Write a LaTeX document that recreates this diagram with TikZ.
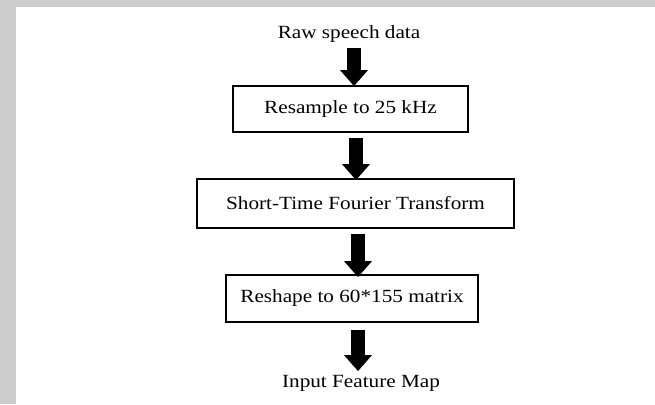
\documentclass[tikz,border=0pt]{standalone}
\usepackage{fontspec}
\setmainfont{Liberation Serif}[FakeStretch=1.14]
\usetikzlibrary{arrows.meta}
\definecolor{framegray}{RGB}{204,204,204}
\tikzset{
  label/.style={inner sep=0pt, font=\fontsize{18.6}{22}\selectfont, text=black},
  stage/.style={draw=black, line width=1.8pt, inner sep=0pt, font=\fontsize{18.6}{22}\selectfont, text=black},
  flow/.style={line width=14pt, -{Triangle[width=27pt,length=16pt]}}
}
\begin{document}
\begin{tikzpicture}[x=1pt, y=-1pt]
  % page and grey frame
  \useasboundingbox (0,0) rectangle (655,404);
  \fill[white] (0,0) rectangle (655,404);
  \fill[framegray] (0,0) rectangle (655,7);
  \fill[framegray] (0,0) rectangle (16,404);

  % texts and processing stages
  \node[label, anchor=base] (raw) at (349,39) {Raw speech data};
  \node[stage, minimum width=235pt, minimum height=46pt] (resample) at (350.5,109) {Resample to 25 kHz};
  \node[stage, minimum width=317pt, minimum height=49pt] (stft) at (355.5,203.5) {Short-Time Fourier Transform};
  \node[stage, minimum width=252pt, minimum height=47pt] (reshape) at (352,298.5) {Reshape to 60*155 matrix};
  \node[label, anchor=base] (feat) at (361,387) {Input Feature Map};

  % block arrows between the stages
  \draw[flow] ([xshift=5pt,yshift=-5pt]raw.south) -- ([xshift=3.5pt,yshift=-1pt]resample.north);
  \draw[flow] ([xshift=5.5pt,yshift=-5pt]resample.south) -- ([xshift=0.5pt,yshift=-2pt]stft.north);
  \draw[flow] ([xshift=2.5pt,yshift=-5pt]stft.south) -- ([xshift=6pt,yshift=-3pt]reshape.north);
  \draw[flow] ([xshift=6pt,yshift=-7pt]reshape.south) -- ([xshift=-3pt,yshift=3.5pt]feat.north);
\end{tikzpicture}
\end{document}
